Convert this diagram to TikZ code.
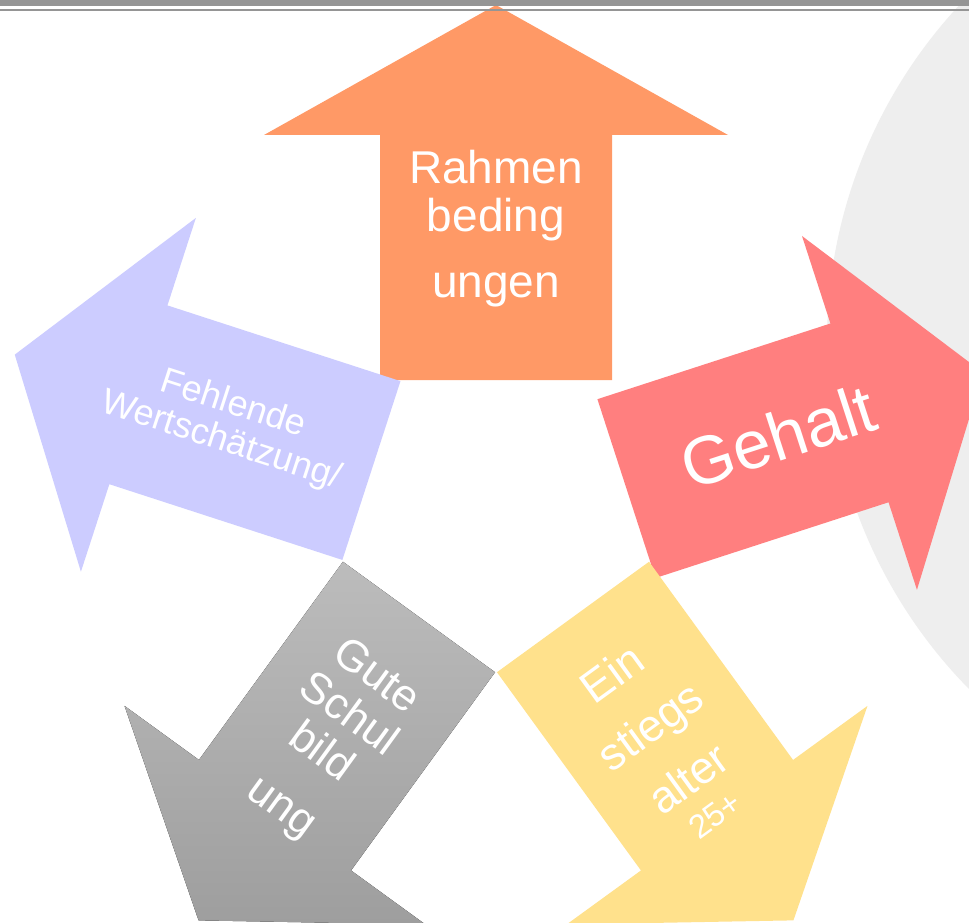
\documentclass[tikz,border=0pt]{standalone}
\usepackage{fontspec}
\setmainfont{Liberation Sans}
\usepackage{tikz}
\usetikzlibrary{positioning}
\definecolor{rahmenOrange}{HTML}{FF9966}
\definecolor{gehaltRed}{HTML}{FF7F7F}
\definecolor{einstiegYellow}{HTML}{FFE18C}
\definecolor{schulGrayTop}{HTML}{BCBCBC}
\definecolor{schulGrayBottom}{HTML}{9E9E9E}
\definecolor{wertBlue}{HTML}{CCCCFF}
\definecolor{circleGray}{HTML}{EEEEEE}
\definecolor{bandGray}{HTML}{959595}
\tikzstyle{arrowText} = [text=white, align=center, inner sep=0pt]
\tikzstyle{wertArrow} = [fill=wertBlue]
\tikzstyle{gehaltArrow} = [fill=gehaltRed, xshift=19pt]
\tikzstyle{einArrow} = [fill=einstiegYellow]
\tikzstyle{schulArrow} = [top color=schulGrayTop, bottom color=schulGrayBottom]

\begin{document}
\begin{tikzpicture}[x=1pt, y=-1pt]
    \useasboundingbox (0,0) rectangle (969,923);
    \clip (0,0) rectangle (969,923);
    \fill[white] (0,0) rectangle (969,923);
    \fill[circleGray] (1322,342) circle (495);
    % five arrows around the centre
    \fill[rahmenOrange, shift={(496,511)}] (-116,-131) -- (-116,-376) -- (-232,-376) -- (0,-506) -- (232,-376) -- (116,-376) -- (116,-131) -- cycle;
    \foreach \ang/\sty in {72/wertArrow, -72/gehaltArrow, -144/einArrow, 144/schulArrow}
        \fill[shift={(496,511)}, rotate=\ang, \sty] (-94,-131) -- (-94,-376) -- (-186,-376) -- (0,-506) -- (186,-376) -- (94,-376) -- (94,-131) -- cycle;
    \fill[bandGray] (0,0) rectangle (969,6.5);
    \fill[bandGray] (0,9) rectangle (969,11.5);
    % texts
    \node (rahmen) [arrowText, font=\fontsize{46}{48}\selectfont] at (496,229) {Rahmen\\beding\\[18pt]ungen};
    \node (gehalt) [arrowText, font=\fontsize{68}{70}\selectfont, rotate=18] at (778,436) {Gehalt};
    \node (wert) [arrowText, font=\fontsize{36}{38}\selectfont, rotate=-18] at (227,423) {Fehlende\\Wertschätzung/};
    \node (schul) [arrowText, font=\fontsize{44}{47}\selectfont, rotate=-36] at (328,743) {Gute\\Schul\\bild\\[20pt]ung};
    \node (einstieg) [arrowText, font=\fontsize{45}{65}\selectfont, rotate=36] at (662,742) {Ein\\stiegs\\alter\\[-24pt]{\fontsize{33}{35}\selectfont 25+}};
\end{tikzpicture}
\end{document}
